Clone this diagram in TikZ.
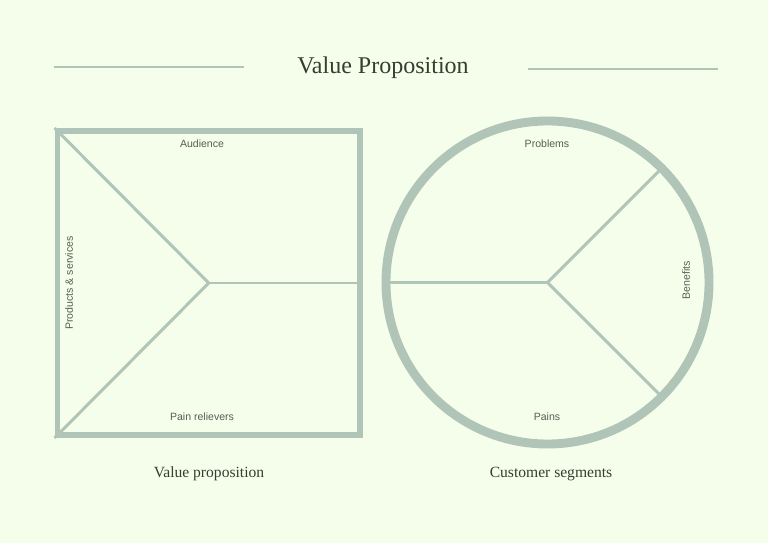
\documentclass[tikz,border=0pt]{standalone}
\usepackage{fontspec}
\usepackage{xcolor}
\usepackage{tikz}
\newfontfamily\partfont{Liberation Sans}
\newfontfamily\headfont{Liberation Serif}
\definecolor{sage}{HTML}{B0C4B8}
\definecolor{paper}{HTML}{F5FEEB}
\definecolor{ink}{HTML}{363D31}
\definecolor{softink}{HTML}{585D54}

\begin{document}
\begin{tikzpicture}[x=0.03cm, y=-0.03cm,
        frame/.style={draw=sage, line width=5.1pt, minimum width=9.075cm, minimum height=9.12cm, inner sep=0pt},
        ring/.style={circle, draw=sage, line width=7.6pt, minimum size=9.69cm, inner sep=0pt},
        spoke/.style={draw=sage, line width=2.55pt},
        rule/.style={draw=sage, line width=1.7pt},
        part/.style={font=\partfont\fontsize{9}{11}\selectfont, text=softink, inner sep=0pt},
        caption/.style={font=\headfont\fontsize{13.3}{15}\selectfont, text=ink, inner sep=0pt}]
        % Background
        \fill[paper] (0,0) rectangle (768,543);
        \useasboundingbox (0,0) rectangle (768,543);
        % Title and rules
        \node[font=\headfont\fontsize{20.5}{24}\selectfont, text=ink, inner sep=0pt] (title) at (383,68) {Value Proposition};
        \coordinate (ruleLa) at (54,67);
        \coordinate (ruleLb) at (244,67);
        \coordinate (ruleRa) at (528,69);
        \coordinate (ruleRb) at (718,69);
        \draw[rule] (ruleLa) -- (ruleLb);
        \draw[rule] (ruleRa) -- (ruleRb);
        % Draw the square
        \node[frame] (vp) at (208.75,283) {};
        \draw[spoke] (vp.north west) -- (vp.center) -- (vp.south west);
        \draw[spoke] (vp.center) -- (vp.east);
        \node[part] (audience) at (202,144) {Audience};
        \node[part] (relievers) at (202,417) {Pain relievers};
        \node[part, rotate=90] (products) at (69,283) {Products \& services};
        % Draw the circle
        \node[ring] (cs) at (547.5,282.5) {};
        \draw[spoke] (cs.center) -- (cs.45);
        \draw[spoke] (cs.center) -- (cs.-45);
        \draw[spoke] (cs.center) -- (cs.180);
        \node[part] (problems) at (547,144) {Problems};
        \node[part] (pains) at (547,417) {Pains};
        \node[part, rotate=90] (benefits) at (686,280) {Benefits};
        % Captions
        \node[caption] (vpcap) at (209,474) {Value proposition};
        \node[caption] (cscap) at (551,474) {Customer segments};
\end{tikzpicture}
\end{document}
